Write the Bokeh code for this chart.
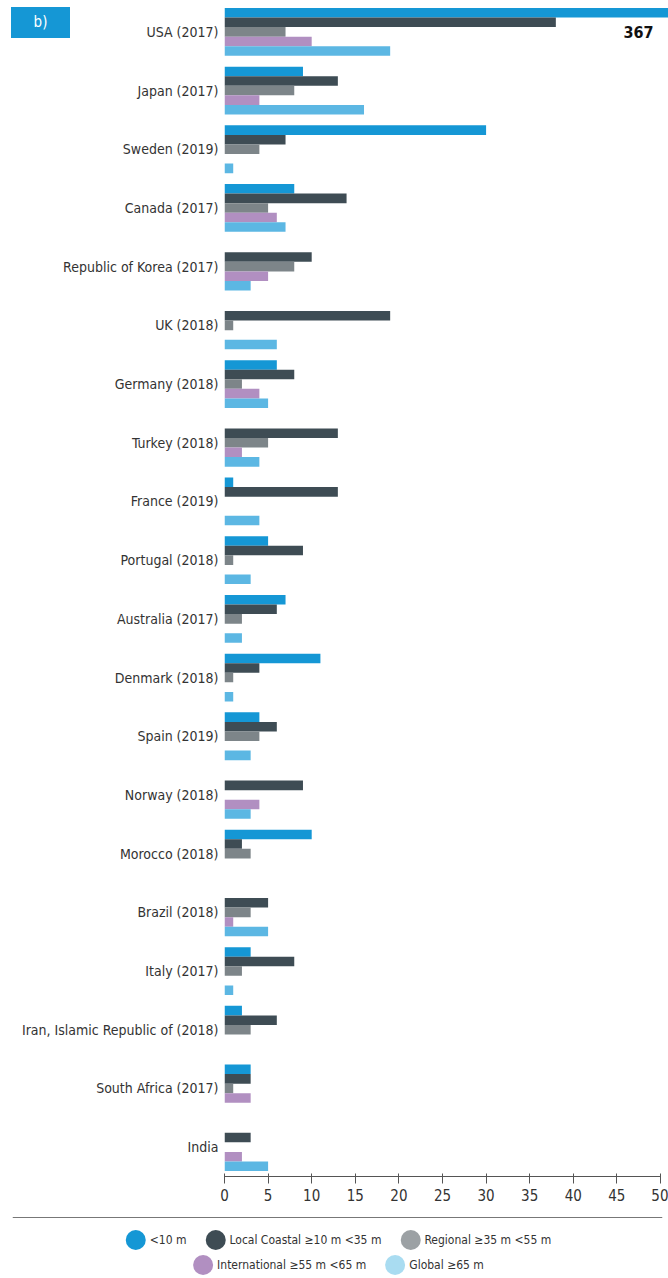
from bokeh.plotting import figure
from bokeh.models import (ColumnDataSource, FactorRange, Range1d, FixedTicker,
                          Legend, LegendItem, Span, Div)
from bokeh.transform import dodge
from bokeh.embed import file_html
from bokeh.resources import INLINE
from bokeh.core.properties import value

countries = ["USA (2017)", "Japan (2017)", "Sweden (2019)", "Canada (2017)",
             "Republic of Korea (2017)", "UK (2018)", "Germany (2018)", "Turkey (2018)",
             "France (2019)", "Portugal (2018)", "Australia (2017)", "Denmark (2018)",
             "Spain (2019)", "Norway (2018)", "Morocco (2018)", "Brazil (2018)",
             "Italy (2017)", "Iran, Islamic Republic of (2018)", "South Africa (2017)", "India"]
lt10 =          [367, 9, 30, 8, 0, 0, 6, 0, 1, 5, 7, 11, 4, 0, 10, 0, 3, 2, 3, 0]
local_coastal = [38, 13, 7, 14, 10, 19, 8, 13, 13, 9, 6, 4, 6, 9, 2, 5, 8, 6, 3, 3]
regional =      [7, 8, 4, 5, 8, 1, 2, 5, 0, 1, 2, 1, 4, 0, 3, 3, 2, 3, 1, 0]
international = [10, 4, 0, 6, 5, 0, 4, 2, 0, 0, 0, 0, 0, 4, 0, 1, 0, 0, 3, 2]
global_ =       [19, 16, 1, 7, 3, 6, 5, 4, 4, 3, 2, 1, 3, 3, 0, 5, 1, 0, 0, 5]
series_names = ["<10 m", "Local Coastal \u226510 m <35 m", "Regional \u226535 m <55 m",
                "International \u226555 m <65 m", "Global \u226565 m"]
x_ticks = [0, 5, 10, 15, 20, 25, 30, 35, 40, 45, 50]
panel_label = "b)"

bar_colors = ["#1597d5", "#3e4c54", "#7d8589", "#b18fc1", "#5cb7e3"]
legend_colors = ["#1597d5", "#3e4c54", "#9ca1a4", "#b18fc1", "#a9dcf1"]
FONT = "DejaVu Sans Condensed"

src = ColumnDataSource(dict(country=countries, s0=lt10, s1=local_coastal, s2=regional,
                            s3=international, s4=global_))

p = figure(width=668, height=1210, output_backend="svg", toolbar_location=None,
           y_range=FactorRange(factors=list(reversed(countries))),
           x_range=Range1d(0, 50.92),
           min_border_left=224, min_border_right=0, min_border_top=2, min_border_bottom=34)
p.outline_line_color = None
p.xgrid.grid_line_color = None
p.ygrid.grid_line_color = None

bh = 0.163
offsets = [2 * bh, bh, 0, -bh, -2 * bh]
for i in range(5):
    p.hbar(y=dodge("country", offsets[i], range=p.y_range), right="s%d" % i, left=0,
           height=bh, source=src, fill_color=bar_colors[i], line_color=None)

# value label for the clipped USA bar
lab_src = ColumnDataSource(dict(country=[countries[0]], x=[x_ticks[-1]], t=[str(lt10[0])]))
p.text(x="x", y=dodge("country", 0, range=p.y_range), text="t", source=lab_src,
       text_align="right", text_baseline="middle", x_offset=-7,
       text_font=value(FONT), text_font_style="bold", text_font_size="16px",
       text_color="#111111")

xa = p.xaxis[0]
xa.ticker = FixedTicker(ticks=x_ticks)
xa.bounds = (0, 50)
xa.axis_line_color = "#555555"
xa.major_tick_line_color = "#555555"
xa.major_tick_in = 3
xa.major_tick_out = 7
xa.minor_tick_line_color = None
xa.major_label_text_font = FONT
xa.major_label_text_font_size = "15px"
xa.major_label_text_color = "#333333"
xa.major_label_standoff = 5

ya = p.yaxis[0]
ya.axis_line_color = None
ya.major_tick_line_color = None
ya.minor_tick_line_color = None
ya.major_tick_out = 0
ya.major_tick_in = 0
ya.major_label_text_font = FONT
ya.major_label_text_font_size = "14px"
ya.major_label_text_color = "#333333"
ya.major_label_standoff = 6

# legend figure with separator line
p2 = figure(width=668, height=68, output_backend="svg", toolbar_location=None,
            x_range=Range1d(0, 1), y_range=Range1d(0, 68),
            x_axis_location=None, y_axis_location=None,
            min_border_left=12, min_border_right=6, min_border_top=0, min_border_bottom=0)
p2.outline_line_color = None
p2.xgrid.grid_line_color = None
p2.ygrid.grid_line_color = None
p2.add_layout(Span(location=61, dimension="width", line_color="#777777", line_width=1))
rends = []
nan = float("nan")
for i in range(5):
    r = p2.ellipse(x=[nan], y=[nan], width=20, height=20, width_units="screen",
                   height_units="screen", fill_color=legend_colors[i], line_color=None)
    rends.append(r)

def make_legend(idx, margin):
    lg = Legend(items=[LegendItem(label=series_names[i], renderers=[rends[i]]) for i in idx],
                orientation="horizontal", location="top_center", margin=margin,
                padding=0, spacing=16, glyph_width=25, glyph_height=25, label_standoff=2,
                label_text_font=FONT, label_text_font_size="12px",
                label_text_color="#333333", background_fill_alpha=0,
                border_line_color=None, level="overlay")
    p2.add_layout(lg, "center")

make_legend([0, 1, 2], 17)
make_legend([3, 4], 42)

bdiv = Div(text=panel_label, width=59, height=31,
           styles={"position": "absolute", "left": "6px", "top": "2px",
                   "background-color": "#1597d5", "color": "white",
                   "font-family": FONT, "font-size": "15px", "text-align": "center",
                   "line-height": "31px", "z-index": "10"})

open("out.html", "w").write(file_html([p, p2, bdiv], INLINE))
